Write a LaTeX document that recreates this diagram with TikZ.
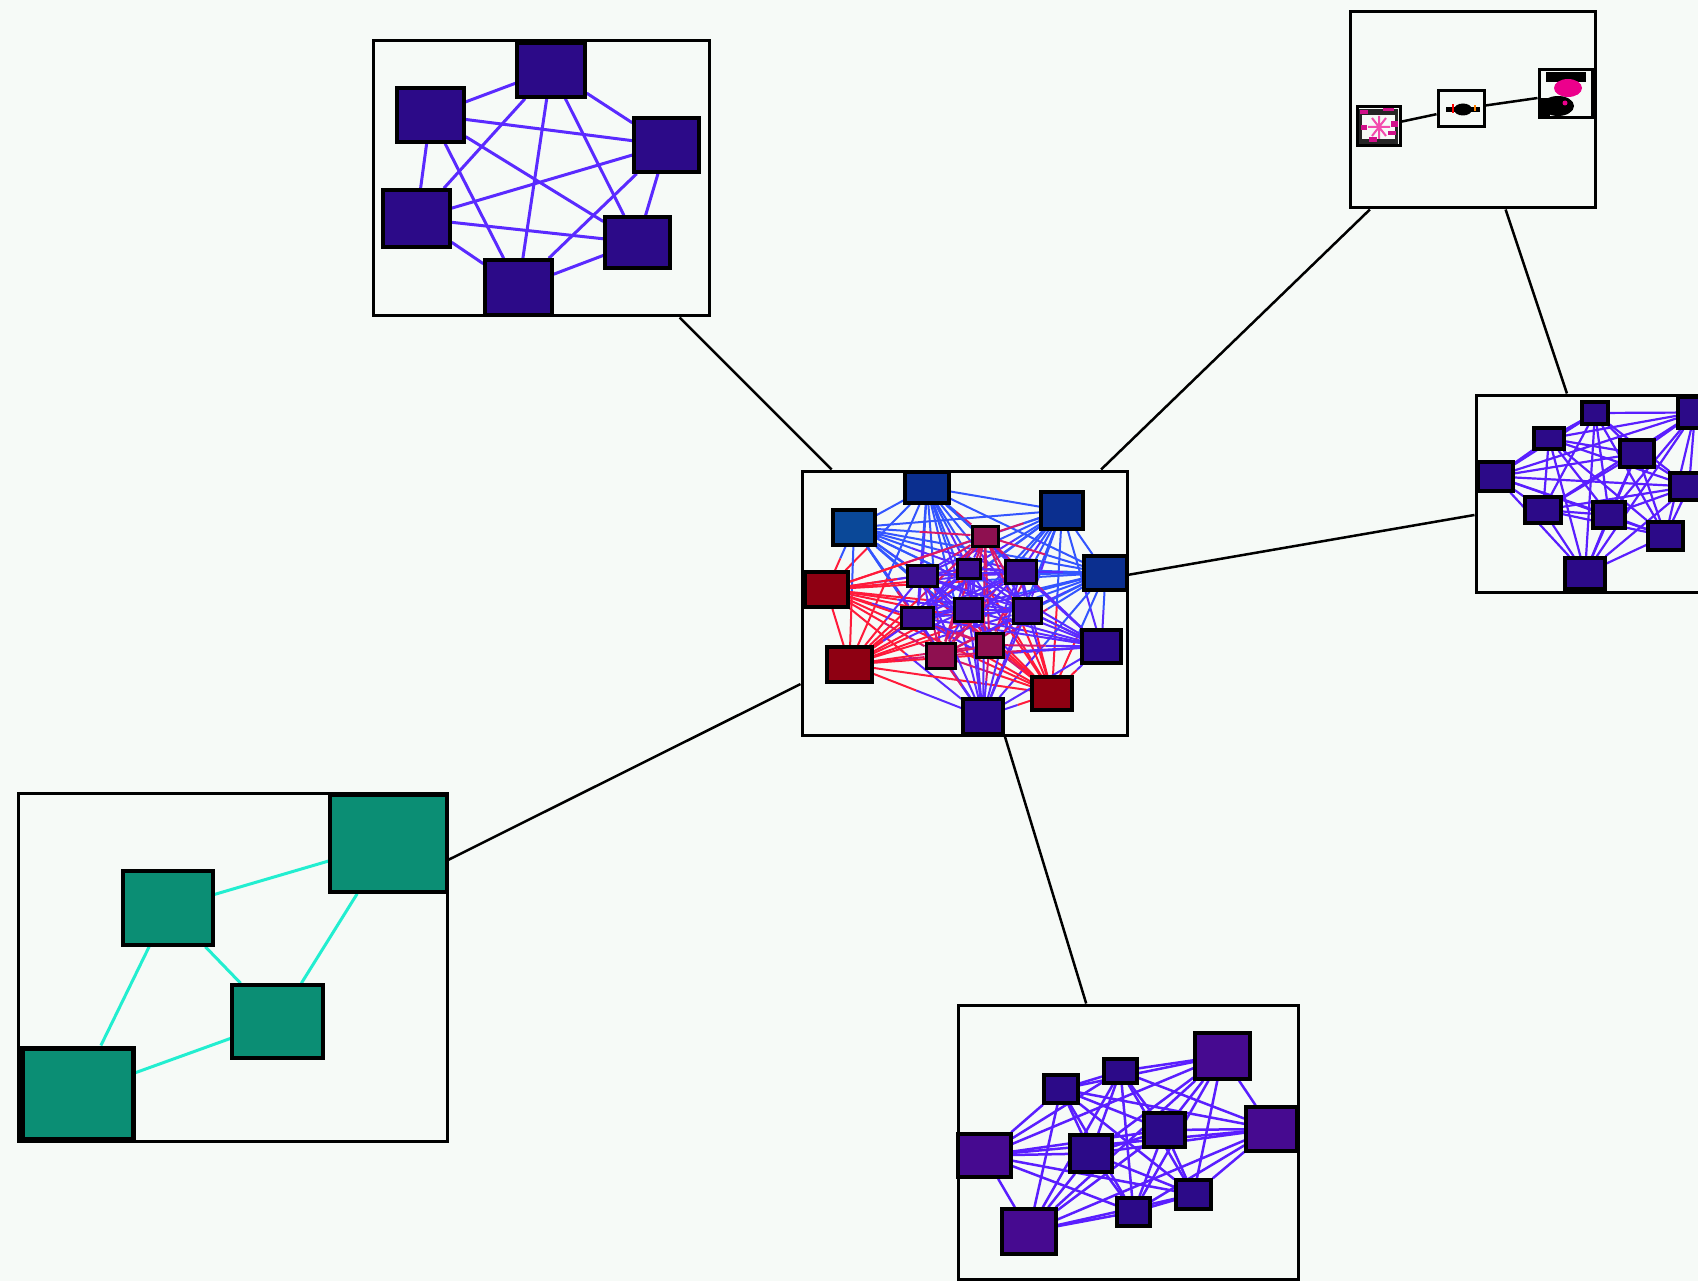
\documentclass[tikz,border=0pt]{standalone}
\usetikzlibrary{calc}
\pgfdeclarelayer{bgfill}\pgfdeclarelayer{boxes}\pgfdeclarelayer{edges}
\pgfsetlayers{bgfill,boxes,edges,main}
\definecolor{bgc}{HTML}{F6FAF7}
\definecolor{fblue}{HTML}{0B2F8F}
\definecolor{fblueL}{HTML}{0A4898}
\definecolor{fred}{HTML}{8E0012}
\definecolor{fpink}{HTML}{8E1050}
\definecolor{fpur}{HTML}{3C1092}
\definecolor{findigo}{HTML}{2C0A88}
\definecolor{fviolet}{HTML}{460A90}
\definecolor{fteal}{HTML}{0B8E74}
\definecolor{eB}{HTML}{3355FF}
\definecolor{eR}{HTML}{FF1A3A}
\definecolor{eV}{HTML}{5A2AFF}
\definecolor{eP}{HTML}{D8186A}
\definecolor{eI}{HTML}{5A1EFF}
\definecolor{eC}{HTML}{22EED0}
\definecolor{mag}{HTML}{D0108A}
\tikzset{
  panel/.style={draw=black, fill=bgc, line width=3pt, inner sep=0pt},
  sq/.style={draw=black, line width=3.5pt, inner sep=0pt},
  sqs/.style={draw=black, line width=3pt, inner sep=0pt},
  link/.style={draw=black, line width=2.5pt},
  inedge/.style={line width=3pt},
  cedge/.style={line width=2pt},
}
\newcommand\mybox[6]{\node[#1,minimum width={(#5-#3)*1pt},minimum height={(#6-#4)*1pt}] (#2) at ({(#3+#5)/2},{(#4+#6)/2}) {};}
\begin{document}
\begin{tikzpicture}[x=1pt,y=-1pt]
\begin{pgfonlayer}{bgfill}
\fill[bgc] (0,0) rectangle (1698,1281);
\end{pgfonlayer}
\useasboundingbox (0,0) rectangle (1698,1281);

% ---------- panels ----------
\begin{pgfonlayer}{boxes}
\mybox{panel}{pTL}{373}{41}{709}{316}
\mybox{panel}{pTR}{1350}{12}{1595}{208}
\mybox{panel}{pC}{802}{471}{1127}{735}
\mybox{panel}{pR}{1476}{395}{1724}{592}
\mybox{panel}{pBL}{18}{793}{447}{1141}
\mybox{panel}{pB}{958}{1005}{1298}{1279}
\draw[link] (pTL) -- (pC);
\draw[link] (pTR) -- (pC);
\draw[link] (pTR) -- (pR);
\draw[link] (pR) -- (pC);
\draw[link] (pBL) -- (pC);
\draw[link] (pC) -- (pB);
\end{pgfonlayer}

% ---------- top-left panel ----------
\mybox{sq,fill=findigo}{t1}{517}{43}{585}{97}
\mybox{sq,fill=findigo}{t2}{397}{88}{464}{142}
\mybox{sq,fill=findigo}{t3}{634}{118}{699}{172}
\mybox{sq,fill=findigo}{t4}{383}{190}{450}{247}
\mybox{sq,fill=findigo}{t5}{605}{217}{670}{268}
\mybox{sq,fill=findigo}{t6}{485}{260}{552}{315}
\begin{pgfonlayer}{edges}
\foreach \i in {1,...,5}{
  \pgfmathtruncatemacro\js{\i+1}
  \foreach \j in {\js,...,6}{\draw[inedge,eV] (t\i) -- (t\j);}
}
\end{pgfonlayer}

% ---------- bottom-left panel ----------
\mybox{sq,fill=fteal}{g1}{330}{795}{447}{892}
\mybox{sq,fill=fteal}{g2}{123}{871}{213}{945}
\mybox{sq,fill=fteal}{g3}{232}{985}{323}{1058}
\mybox{sq,fill=fteal,line width=5pt}{g4}{22}{1048}{133}{1139}
\begin{pgfonlayer}{edges}
\draw[inedge,eC] (g2) -- (g1);
\draw[inedge,eC] (g2) -- (g3);
\draw[inedge,eC] (g2) -- (g4);
\draw[inedge,eC] (g3) -- (g1);
\draw[inedge,eC] (g3) -- (g4);
\end{pgfonlayer}

% ---------- right panel ----------
\mybox{sq,fill=findigo}{r1}{1582}{402}{1608}{424}
\mybox{sq,fill=findigo}{r2}{1678}{397}{1712}{428}
\mybox{sq,fill=findigo}{r3}{1534}{428}{1564}{449}
\mybox{sq,fill=findigo}{r4}{1620}{440}{1654}{467}
\mybox{sq,fill=findigo}{r5}{1478}{462}{1513}{491}
\mybox{sq,fill=findigo}{r6}{1670}{473}{1708}{500}
\mybox{sq,fill=findigo}{r7}{1525}{497}{1561}{523}
\mybox{sq,fill=findigo}{r8}{1593}{502}{1625}{528}
\mybox{sq,fill=findigo}{r9}{1648}{522}{1683}{550}
\mybox{sq,fill=findigo}{r10}{1565}{558}{1605}{589}
\begin{pgfonlayer}{edges}
\foreach \i in {1,...,9}{
  \pgfmathtruncatemacro\js{\i+1}
  \foreach \j in {\js,...,10}{\draw[line width=2.2pt,eI] (r\i) -- (r\j);}
}
\end{pgfonlayer}

% ---------- bottom panel ----------
\mybox{sq,fill=fviolet}{b1}{1195}{1033}{1250}{1079}
\mybox{sq,fill=findigo}{b2}{1104}{1059}{1137}{1083}
\mybox{sq,fill=findigo}{b3}{1044}{1075}{1078}{1103}
\mybox{sq,fill=fviolet}{b4}{1246}{1107}{1297}{1151}
\mybox{sq,fill=findigo}{b5}{1144}{1113}{1185}{1147}
\mybox{sq,fill=fviolet}{b6}{958}{1134}{1011}{1177}
\mybox{sq,fill=findigo}{b7}{1070}{1135}{1112}{1172}
\mybox{sq,fill=findigo}{b8}{1176}{1180}{1211}{1209}
\mybox{sq,fill=findigo}{b9}{1117}{1198}{1150}{1226}
\mybox{sq,fill=fviolet}{b10}{1002}{1209}{1056}{1254}
\begin{pgfonlayer}{edges}
\foreach \i in {1,...,9}{
  \pgfmathtruncatemacro\js{\i+1}
  \foreach \j in {\js,...,10}{\draw[line width=2.5pt,eI] (b\i) -- (b\j);}
}
\end{pgfonlayer}

% ---------- centre panel ----------
\mybox{sq,fill=fblue}{c1}{905}{472}{949}{503}
\mybox{sq,fill=fblueL}{c2}{833}{510}{875}{545}
\mybox{sq,fill=fblue}{c3}{1041}{492}{1083}{529}
\mybox{sq,fill=fblue}{c4}{1084}{556}{1127}{590}
\mybox{sq,fill=fred}{c5}{805}{572}{848}{607}
\mybox{sq,fill=fred}{c6}{827}{647}{872}{682}
\mybox{sq,fill=fred}{c7}{1032}{677}{1072}{710}
\mybox{sq,fill=findigo}{c8}{963}{699}{1003}{734}
\mybox{sq,fill=findigo}{c9}{1082}{630}{1121}{663}
\mybox{sqs,fill=fpink}{c10}{972}{526}{998}{546}
\mybox{sqs,fill=fpur}{c11}{907}{565}{937}{586}
\mybox{sqs,fill=fpur}{c12}{957}{559}{980}{578}
\mybox{sqs,fill=fpur}{c13}{1005}{560}{1036}{583}
\mybox{sqs,fill=fpur}{c14}{901}{607}{933}{628}
\mybox{sqs,fill=fpur}{c15}{954}{598}{982}{621}
\mybox{sqs,fill=fpur}{c16}{1013}{598}{1041}{623}
\mybox{sqs,fill=fpink}{c17}{926}{643}{955}{668}
\mybox{sqs,fill=fpink}{c18}{976}{633}{1003}{657}
\colorlet{ce1}{eB}\colorlet{ce2}{eB}\colorlet{ce3}{eB}\colorlet{ce4}{eB}
\colorlet{ce5}{eR}\colorlet{ce6}{eR}\colorlet{ce7}{eR}
\colorlet{ce8}{eV}\colorlet{ce9}{eV}\colorlet{ce10}{eP}
\colorlet{ce11}{eV}\colorlet{ce12}{eV}\colorlet{ce13}{eV}
\colorlet{ce14}{eV}\colorlet{ce15}{eV}\colorlet{ce16}{eV}
\colorlet{ce17}{eP}\colorlet{ce18}{eP}
\begin{pgfonlayer}{edges}
\foreach \i in {1,...,17}{
  \pgfmathtruncatemacro\js{\i+1}
  \foreach \j in {\js,...,18}{
    \draw[cedge,draw=ce\i] (c\i) -- ($(c\i)!0.5!(c\j)$);
    \draw[cedge,draw=ce\j] ($(c\i)!0.5!(c\j)$) -- (c\j);
  }
}
\end{pgfonlayer}

% ---------- top-right panel (nested miniature) ----------
\mybox{sqs,fill=bgc}{m1}{1357}{107}{1400}{146}
\mybox{sqs,fill=bgc}{m2}{1438}{91}{1484}{127}
\mybox{sqs,fill=bgc}{m3}{1539}{70}{1592}{118}
\begin{pgfonlayer}{edges}
\draw[link] (m1) -- (m2);
\draw[link] (m2) -- (m3);
\end{pgfonlayer}
% miniature contents
\fill[black!85] (1359,109) rectangle (1398,144);
\fill[bgc] (1362,115) rectangle (1395,139);
\fill[mag] (1360,110) rectangle (1368,114);
\fill[mag] (1383,108) rectangle (1394,111);
\fill[mag] (1361,125) rectangle (1367,130);
\fill[mag] (1391,121) rectangle (1398,127);
\fill[mag] (1369,137) rectangle (1377,142);
\fill[mag] (1388,131) rectangle (1396,135);
\draw[line width=2pt,magenta!70!white] (1372,118) -- (1386,136) (1386,118) -- (1372,136) (1368,127) -- (1390,127) (1379,116) -- (1379,139);
\fill[black] (1446,107) rectangle (1480,112);
\fill[black] (1463,109.5) ellipse (9 and 6);
\fill[red] (1452,104) rectangle (1454,113);
\fill[orange] (1474,105) rectangle (1476,111);
\fill[black] (1546,72) rectangle (1586,82);
\fill[magenta] (1568,88) ellipse (14 and 9);
\fill[black] (1558,106) ellipse (16 and 10);
\fill[black] (1541,98) rectangle (1550,116);
\fill[magenta] (1565,103) circle (2.5);
\fill[magenta] (1576,93) circle (2);
\end{tikzpicture}
\end{document}
